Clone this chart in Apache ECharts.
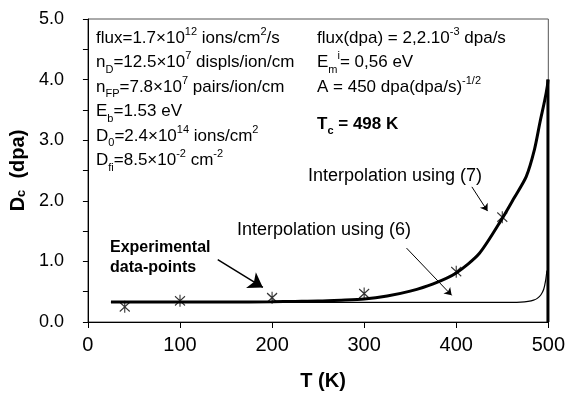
<!DOCTYPE html>
<html>
<head>
<meta charset="utf-8">
<script src="https://cdn.jsdelivr.net/npm/echarts@6/dist/echarts.min.js"></script>
<style>html,body{margin:0;padding:0;background:#fff;}#c{width:568px;height:396px;}</style>
</head>
<body>
<div id="c"></div>
<script>
// ---- data ----
const xTickValues = [0, 100, 200, 300, 400, 500];
const yTickValues = [0.0, 1.0, 2.0, 3.0, 4.0, 5.0];

// Interpolation using (7) — thick curve
const T7 = [25, 50, 100, 150, 200, 225, 250, 275, 300, 325, 350, 375, 400, 425, 450, 463, 476, 485, 491, 496, 499, 499.6];
const D7 = [0.33, 0.33, 0.33, 0.33, 0.335, 0.34, 0.345, 0.36, 0.38, 0.43, 0.51, 0.63, 0.81, 1.13, 1.71, 2.05, 2.4, 2.85, 3.3, 3.65, 3.9, 4.0];
// vertical drop of curve (7) at T ≈ Tc
const Tdrop = [499.6, 499.6];
const Ddrop = [4.0, 0.0];

// Interpolation using (6) — thin curve
const T6 = [25, 100, 200, 300, 400, 460, 470, 478, 484, 488, 492, 495, 497, 498.5];
const D6 = [0.325, 0.325, 0.325, 0.325, 0.325, 0.325, 0.328, 0.34, 0.36, 0.39, 0.45, 0.54, 0.68, 0.85];

// Experimental data-points
const Texp = [40, 100, 200, 300, 400, 450];
const Dexp = [0.25, 0.35, 0.40, 0.47, 0.83, 1.73];

// annotation arrows (data coordinates: [T, D] start -> end)
const arrowExp = [[141, 1.03], [190, 0.57]];
const arrow6 = [[346, 1.22], [395, 0.44]];
const arrow7 = [[417, 2.23], [434, 1.83]];

const zip = (a, b) => a.map((v, i) => [v, b[i]]);

const chart = echarts.init(document.getElementById('c'), null, {renderer: 'canvas'});
const FONT = 'Liberation Sans, Arial, sans-serif';

const richBase = {
  n: {fontSize: 17, fontFamily: FONT, color: '#000', lineHeight: 24.5},
  sup: {fontSize: 11, fontFamily: FONT, color: '#000', lineHeight: 11, verticalAlign: 'top'},
  sub: {fontSize: 11, fontFamily: FONT, color: '#000', lineHeight: 11, verticalAlign: 'bottom'}
};

const option = {
  backgroundColor: '#fff',
  animation: false,
  grid: {left: 87, right: 19, top: 19, bottom: 71, show: true, borderColor: '#555', borderWidth: 1},
  xAxis: {
    type: 'value', min: 0, max: 500, interval: 100,
    name: 'T (K)', nameLocation: 'middle', nameGap: 49,
    nameTextStyle: {fontSize: 20, fontWeight: 'bold', fontFamily: FONT, color: '#000', padding: [0, 0, 0, 10]},
    axisLine: {show: true, lineStyle: {color: '#000', width: 1}},
    axisTick: {show: true, length: 6, lineStyle: {color: '#000'}},
    axisLabel: {fontSize: 20, fontFamily: FONT, color: '#000', margin: 13,
      formatter: v => xTickValues.includes(v) ? String(v) : ''},
    splitLine: {show: false}
  },
  yAxis: {
    type: 'value', min: 0, max: 5, interval: 0.5,
    name: '{b|D}{s|c}{b|  (dpa)}', nameLocation: 'middle', nameGap: 43,
    nameTextStyle: {rich: {
      b: {fontSize: 20, fontWeight: 'bold', fontFamily: FONT, color: '#000'},
      s: {fontSize: 13, fontWeight: 'bold', fontFamily: FONT, color: '#000', verticalAlign: 'bottom', lineHeight: 14}
    }},
    axisLine: {show: true, lineStyle: {color: '#000', width: 1}},
    axisTick: {show: true, length: 5, lineStyle: {color: '#000'}},
    axisLabel: {fontSize: 18, fontFamily: FONT, color: '#000', margin: 24,
      formatter: v => yTickValues.includes(v) ? v.toFixed(1) : ''},
    splitLine: {show: false}
  },
  series: [
    {
      type: 'line', name: '(6)', data: zip(T6, D6), showSymbol: false, smooth: 0.3,
      lineStyle: {color: '#000', width: 1.2}, z: 2
    },
    {
      type: 'line', name: '(7)', data: zip(T7, D7), showSymbol: false, smooth: 0.25,
      lineStyle: {color: '#000', width: 3}, z: 3,
      markLine: {
        silent: true, animation: false,
        symbol: ['none', 'arrow'],
        label: {show: false},
        data: [
          [{coord: arrowExp[0], symbolSize: 0, lineStyle: {width: 1.5, color: '#000', type: 'solid'}}, {coord: arrowExp[1], symbolSize: 14}],
          [{coord: arrow6[0], lineStyle: {width: 1, color: '#000', type: 'solid'}}, {coord: arrow6[1], symbolSize: 7}],
          [{coord: arrow7[0], lineStyle: {width: 1, color: '#000', type: 'solid'}}, {coord: arrow7[1], symbolSize: 7}]
        ]
      }
    },
    {
      type: 'line', name: '(7) drop', data: zip(Tdrop, Ddrop), showSymbol: false,
      lineStyle: {color: '#000', width: 3}, z: 3
    },
    {
      type: 'scatter', name: 'exp', data: zip(Texp, Dexp),
      symbol: 'path://M0,0L10,10M10,0L0,10M5,-1.5L5,11.5', symbolSize: [10, 12],
      itemStyle: {color: 'rgba(0,0,0,0)', borderColor: '#000', borderWidth: 1.2}, z: 5
    }
  ],
  graphic: [
    {type: 'text', left: 96, top: 26, style: {
      text: [
        '{n|flux=1.7×10}{sup|12}{n| ions/cm}{sup|2}{n|/s}',
        '{n|n}{sub|D}{n|=12.5×10}{sup|7}{n| displs/ion/cm}',
        '{n|n}{sub|FP}{n|=7.8×10}{sup|7}{n| pairs/ion/cm}',
        '{n|E}{sub|b}{n|=1.53 eV}',
        '{n|D}{sub|0}{n|=2.4×10}{sup|14}{n| ions/cm}{sup|2}',
        '{n|D}{sub|fi}{n|=8.5×10}{sup|-2}{n| cm}{sup|-2}'
      ].join('\n'),
      rich: richBase
    }},
    {type: 'text', left: 317, top: 26, style: {
      text: [
        '{n|flux(dpa) = 2,2.10}{sup|-3}{n| dpa/s}',
        '{n|E}{sub|m}{sup|i}{n|= 0,56 eV}',
        '{n|A = 450 dpa(dpa/s)}{sup|-1/2}'
      ].join('\n'),
      rich: richBase
    }},
    {type: 'text', left: 317, top: 116, style: {
      text: '{b|T}{s|c}{b| = 498 K}',
      rich: {
        b: {fontSize: 17, fontWeight: 'bold', fontFamily: FONT, color: '#000', lineHeight: 24},
        s: {fontSize: 11, fontWeight: 'bold', fontFamily: FONT, color: '#000', lineHeight: 11, verticalAlign: 'bottom'}
      }
    }},
    {type: 'text', left: 308, top: 167, style: {text: 'Interpolation using (7)', font: '18px ' + FONT, fill: '#000'}},
    {type: 'text', left: 237, top: 221, style: {text: 'Interpolation using (6)', font: '18px ' + FONT, fill: '#000'}},
    {type: 'text', left: 110, top: 238, style: {text: 'Experimental\ndata-points', font: 'bold 16px ' + FONT, fill: '#000', lineHeight: 20}}
  ]
};
chart.setOption(option);
</script>
</body>
</html>
